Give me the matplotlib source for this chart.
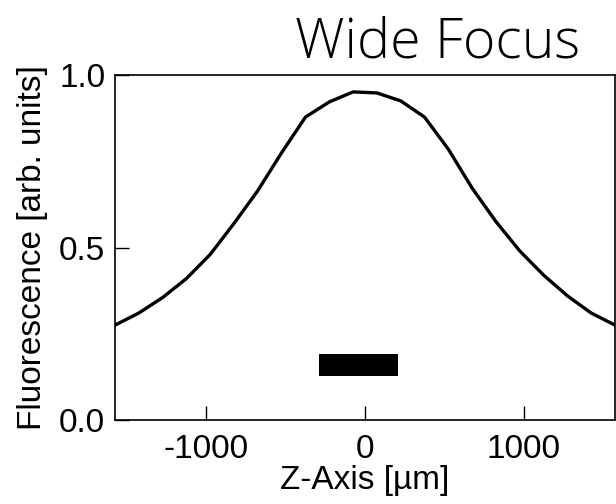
import numpy as np
import matplotlib
matplotlib.use('Agg')
import matplotlib.pyplot as plt

# Z position [um] and fluorescence [arb. units]
z_um = [-1575, -1425, -1275, -1125, -975, -825, -675, -525, -375, -225, -75,
        75, 225, 375, 525, 675, 825, 975, 1125, 1275, 1425, 1575]
fluor = [0.275, 0.31, 0.355, 0.41, 0.48, 0.57, 0.665, 0.775, 0.878, 0.922, 0.951,
         0.948, 0.925, 0.878, 0.785, 0.672, 0.575, 0.49, 0.42, 0.36, 0.31, 0.275]

# focus marker bar
bar_x = [-290, 210]
bar_y = [0.128, 0.19]

plt.rcParams['font.family'] = ['Liberation Sans', 'DejaVu Sans']
plt.rcParams['axes.unicode_minus'] = False

fig = plt.figure(figsize=(6.16, 5.04), dpi=100)
ax = fig.add_axes([115/616, 84/504, 500/616, 345/504])

ax.plot(z_um, fluor, color='black', lw=2.4)
ax.fill_between(bar_x, bar_y[0], bar_y[1], color='black', lw=0)

ax.set_xlim(-1575, 1575)
ax.set_ylim(0, 1)
ax.set_xticks([-1000, 0, 1000])
ax.set_yticks([0.0, 0.5, 1.0])
ax.set_yticklabels(['0.0', '0.5', '1.0'])
ax.tick_params(direction='in', length=10, width=1, labelsize=24, pad=7)
ax.tick_params(axis='x', pad=10)
for s in ax.spines.values():
    s.set_linewidth(1.2)

ax.set_xlabel('Z-Axis [µm]', fontsize=24, labelpad=0)
ax.set_ylabel('Fluorescence [arb. units]', fontsize=24, labelpad=8)

fig.text(580/616, 1 - 58/504, 'Wide Focus', ha='right', va='baseline',
         fontsize=40, family=['Open Sans', 'DejaVu Sans'], fontweight='light')

fig.savefig('out.png', dpi=100)
